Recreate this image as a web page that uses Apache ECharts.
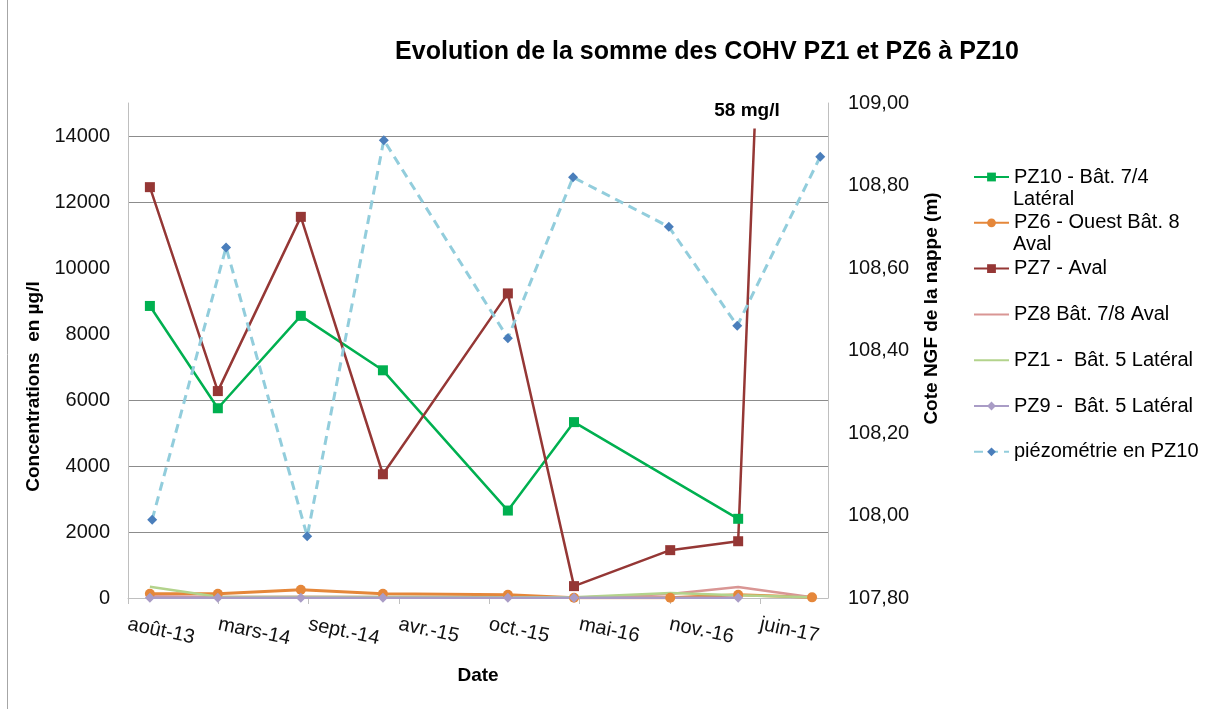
<!DOCTYPE html>
<html>
<head>
<meta charset="utf-8">
<script src="https://cdn.jsdelivr.net/npm/echarts@6/dist/echarts.min.js"></script>
<style>
html,body{margin:0;padding:0;background:#fff;}
#chart{width:1221px;height:709px;}
</style>
</head>
<body>
<div id="chart"></div>
<script>
// ---------- DATA ----------
const baseDate = '2013-08-15';          // origin of the date axis (first tick)
const tickIntervalDays = 198;           // spacing of axis ticks in days
const xMaxDays = 1535;                  // end of the date axis in days
const tickLabels = ['août-13', 'mars-14', 'sept.-14', 'avr.-15', 'oct.-15', 'mai-16', 'nov.-16', 'juin-17'];

const concDates = ['2013-10-02', '2014-02-28', '2014-08-29', '2015-02-25', '2015-11-26', '2016-04-19', '2016-11-16', '2017-04-14', '2017-09-23'];
const piezoDates = ['2013-10-07', '2014-03-18', '2014-09-12', '2015-02-27', '2015-11-26', '2016-04-17', '2016-11-13', '2017-04-12', '2017-10-11'];

const pz10 = [8850, 5750, 8550, 6900, 2650, 5330, null, 2400, null];
const pz6  = [130, 130, 250, 130, 100, 10, 10, 100, 20];
const pz7  = [12450, 6270, 11550, 3750, 9230, 360, 1450, 1720, 58000];
const pz8  = [50, 30, 40, 30, 20, 10, 120, 330, 20];
const pz1  = [340, 40, 30, 30, 20, 20, 150, 80, 20];
const pz9  = [5, 5, 5, 5, 5, 5, null, 5, null];
const piezo = [107.99, 108.65, 107.95, 108.91, 108.43, 108.82, 108.70, 108.46, 108.87];

const legendLines = [
  ['PZ10 - Bât. 7/4', 'Latéral'],
  ['PZ6 - Ouest Bât. 8', 'Aval'],
  ['PZ7 - Aval'],
  ['PZ8 Bât. 7/8 Aval'],
  ['PZ1 -  Bât. 5 Latéral'],
  ['PZ9 -  Bât. 5 Latéral'],
  ['piézométrie en PZ10']
];
const titleText = 'Evolution de la somme des COHV PZ1 et PZ6 à PZ10';
const annotationText = '58 mg/l';

// ---------- HELPERS ----------
const DAY = 86400000;
const base = Date.parse(baseDate + 'T00:00:00Z');
function dayOf(s) { return Math.round((Date.parse(s + 'T00:00:00Z') - base) / DAY); }
function pairs(dates, vals) {
  const out = [];
  dates.forEach((d, i) => { if (vals[i] != null) out.push([dayOf(d), vals[i]]); });
  return out;
}
const names = legendLines.map(l => l.join(' '));
const FONT = "'Liberation Sans', Arial, sans-serif";
const axisGray = '#BFBFBF';
const gridGray = '#8C8C8C';
const none = 'rgba(0,0,0,0)';
const noMarker = [3, 4]; // series drawn without markers

const chart = echarts.init(document.getElementById('chart'), null, {renderer: 'canvas'});

function lineSeries(i, data, color, opts) {
  return Object.assign({
    name: names[i],
    type: 'line',
    data: data,
    yAxisIndex: 0,
    connectNulls: true,
    clip: true,
    lineStyle: {color: color, width: 2.5},
    itemStyle: {color: color},
    emphasis: {disabled: true},
    animation: false
  }, opts);
}

// legend continuation lines
const legendTop = 167, legendStep = 45.8;
const extraText = [];
legendLines.forEach((l, i) => {
  if (l.length > 1) {
    extraText.push({
      type: 'text', z: 100,
      style: {
        x: 1013, y: legendTop + 10 + i * legendStep + 22,
        text: l[1], fill: '#000', font: '20px ' + FONT,
        align: 'left', verticalAlign: 'middle'
      }
    });
  }
});

const option = {
  backgroundColor: '#fff',
  animation: false,
  textStyle: {fontFamily: FONT},
  title: {
    text: titleText,
    left: 702, top: 35, textAlign: 'center',
    textStyle: {fontSize: 25, fontWeight: 'bold', color: '#000', fontFamily: FONT}
  },
  grid: {left: 128, right: 393, top: 103, bottom: 111, containLabel: false},
  legend: {
    orient: 'vertical',
    left: 973, top: legendTop, padding: 0,
    itemWidth: 35, itemHeight: 11, itemGap: 25.8,
    textStyle: {fontSize: 20, color: '#000', fontFamily: FONT},
    formatter: function (n) { const i = names.indexOf(n); return i >= 0 ? legendLines[i][0] : n; },
    data: names.map((n, i) => noMarker.indexOf(i) >= 0 ? {name: n, itemStyle: {opacity: 0}} : n)
  },
  xAxis: {
    type: 'value',
    min: 0, max: xMaxDays, interval: tickIntervalDays,
    name: 'Date', nameLocation: 'middle', nameGap: 68,
    nameTextStyle: {fontSize: 19, fontWeight: 'bold', color: '#000', fontFamily: FONT},
    axisLine: {show: true, lineStyle: {color: axisGray, width: 1}},
    axisTick: {show: true, length: 6, lineStyle: {color: axisGray}},
    splitLine: {show: false},
    axisLabel: {
      rotate: -12, margin: 26, fontSize: 20, color: '#111', fontFamily: FONT,
      showMaxLabel: false,
      formatter: function (v) { const k = Math.round(v / tickIntervalDays); return (Math.abs(v - k * tickIntervalDays) < 1e-6 && tickLabels[k]) ? tickLabels[k] : ''; }
    }
  },
  yAxis: [
    {
      type: 'value', position: 'left',
      min: 0, max: 15000, interval: 2000,
      name: 'Concentrations  en µg/l', nameLocation: 'middle', nameGap: 76, nameRotate: 90,
      nameTextStyle: {fontSize: 19, fontWeight: 'bold', color: '#000', fontFamily: FONT, padding: [0, 72, 0, 0]},
      axisLine: {show: true, lineStyle: {color: axisGray}},
      axisTick: {show: false},
      axisLabel: {fontSize: 20, color: '#111', margin: 18, showMaxLabel: false, fontFamily: FONT,
        formatter: function (v) { return v % 2000 === 0 ? String(v) : ''; }},
      splitLine: {show: true, lineStyle: {width: 1, color: [axisGray, gridGray, gridGray, gridGray, none, none, gridGray, gridGray, none]}}
    },
    {
      type: 'value', position: 'right',
      min: 107.8, max: 109.0, interval: 0.2,
      name: 'Cote NGF de la nappe (m)', nameLocation: 'middle', nameGap: 94, nameRotate: 90,
      nameTextStyle: {fontSize: 19, fontWeight: 'bold', color: '#000', fontFamily: FONT, padding: [0, 0, 0, 84]},
      axisLine: {show: true, lineStyle: {color: axisGray}},
      axisTick: {show: false},
      axisLabel: {fontSize: 20, color: '#111', margin: 20, fontFamily: FONT,
        formatter: function (v) { return v.toFixed(2).replace('.', ','); }},
      splitLine: {show: false}
    }
  ],
  series: [
    lineSeries(0, pairs(concDates, pz10), '#00B050', {symbol: 'rect', symbolSize: 10}),
    lineSeries(1, pairs(concDates, pz6), '#E5873A', {symbol: 'circle', symbolSize: 10, lineStyle: {color: '#E5873A', width: 3}}),
    lineSeries(2, pairs(concDates, pz7), '#953735', {symbol: 'rect', symbolSize: 10}),
    lineSeries(3, pairs(concDates, pz8), '#D99694', {symbol: 'none'}),
    lineSeries(4, pairs(concDates, pz1), '#B3D38C', {symbol: 'none'}),
    lineSeries(5, pairs(concDates, pz9), '#A99CC6', {symbol: 'diamond', symbolSize: 10}),
    lineSeries(6, pairs(piezoDates, piezo), '#92CDDC', {
      yAxisIndex: 1, symbol: 'diamond', symbolSize: 10,
      lineStyle: {color: '#92CDDC', width: 3, type: [9, 6]},
      itemStyle: {color: '#4A7EBB'}
    })
  ],
  graphic: [
    {type: 'line', z: 100, shape: {x1: 7.5, y1: 0, x2: 7.5, y2: 709}, style: {stroke: '#A6A6A6', lineWidth: 1}},
    {
      type: 'text', z: 100,
      style: {
        x: 747, y: 111, text: annotationText,
        font: 'bold 19px ' + FONT, fill: '#000',
        align: 'center', verticalAlign: 'middle',
        backgroundColor: '#fff', padding: [8, 10, 8, 10]
      }
    }
  ].concat(extraText)
};
chart.setOption(option);
</script>
</body>
</html>
